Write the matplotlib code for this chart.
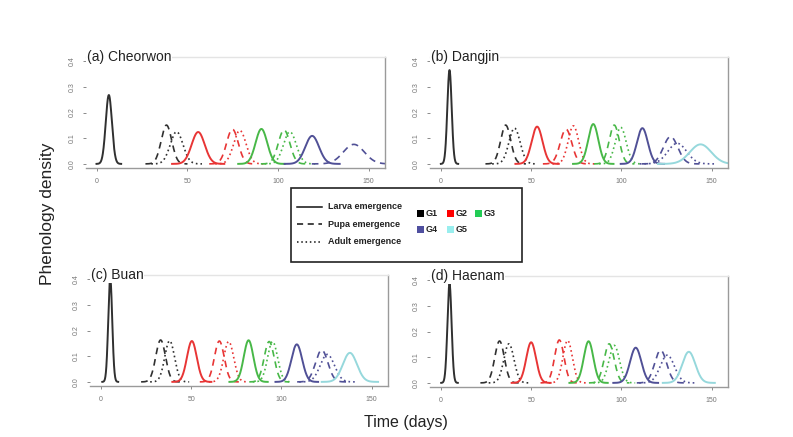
import numpy as np
import matplotlib
matplotlib.use("Agg")
import matplotlib.pyplot as plt
from matplotlib.lines import Line2D
from matplotlib.patches import Rectangle

plt.rcParams['font.family'] = ['Liberation Sans', 'DejaVu Sans']

W, H = 793, 437

# panel titles
sites = ["(a) Cheorwon", "(b) Dangjin", "(c) Buan", "(d) Haenam"]
generations = ["G1", "G2", "G3", "G4", "G5"]
stages = ["Larva emergence", "Pupa emergence", "Adult emergence"]

# each curve: generation, stage, peak day, peak density, spread (days)
cheorwon_gen = ["G1", "G1", "G1", "G2", "G2", "G2", "G3", "G3", "G3", "G4", "G4"]
cheorwon_stage = ["larva", "pupa", "adult", "larva", "pupa", "adult", "larva", "pupa", "adult", "larva", "pupa"]
cheorwon_peak = [6.6, 38.4, 44.0, 55.9, 74.8, 78.9, 90.8, 103.3, 106.5, 118.8, 141.8]
cheorwon_height = [0.268, 0.151, 0.125, 0.124, 0.135, 0.130, 0.136, 0.132, 0.125, 0.109, 0.076]
cheorwon_sd = [1.7, 2.9, 3.5, 3.6, 3.2, 3.4, 3.2, 3.2, 3.5, 3.8, 5.8]

dangjin_gen = ["G1", "G1", "G1", "G2", "G2", "G2", "G3", "G3", "G3", "G4", "G4", "G4", "G5"]
dangjin_stage = ["larva", "pupa", "adult", "larva", "pupa", "adult", "larva", "pupa", "adult", "larva", "pupa", "adult", "larva"]
dangjin_peak = [4.8, 35.9, 40.8, 53.3, 69.3, 73.4, 84.4, 96.0, 99.6, 111.6, 127.2, 130.9, 143.8]
dangjin_height = [0.365, 0.151, 0.139, 0.145, 0.135, 0.148, 0.155, 0.151, 0.142, 0.139, 0.106, 0.080, 0.076]
dangjin_sd = [1.2, 2.8, 3.1, 3.0, 3.2, 2.9, 2.8, 2.8, 3.0, 3.0, 4.0, 5.2, 5.9]

buan_gen = ["G1", "G1", "G1", "G2", "G2", "G2", "G3", "G3", "G3", "G4", "G4", "G4", "G5"]
buan_stage = ["larva", "pupa", "adult", "larva", "pupa", "adult", "larva", "pupa", "adult", "larva", "pupa", "adult", "larva"]
buan_peak = [5.2, 33.1, 38.1, 50.4, 65.6, 70.8, 81.8, 93.2, 95.1, 108.5, 122.3, 125.4, 137.9]
buan_height = [0.403, 0.163, 0.160, 0.159, 0.159, 0.157, 0.162, 0.157, 0.157, 0.146, 0.124, 0.107, 0.113]
buan_sd = [1.1, 2.7, 2.7, 2.7, 2.7, 2.75, 2.65, 2.75, 2.75, 2.95, 3.4, 3.9, 3.9]

haenam_gen = ["G1", "G1", "G1", "G2", "G2", "G2", "G3", "G3", "G3", "G4", "G4", "G4", "G5"]
haenam_stage = ["larva", "pupa", "adult", "larva", "pupa", "adult", "larva", "pupa", "adult", "larva", "pupa", "adult", "larva"]
haenam_peak = [4.8, 32.5, 37.7, 50.0, 65.6, 70.2, 81.8, 93.2, 96.0, 107.9, 121.7, 125.4, 137.3]
haenam_height = [0.386, 0.163, 0.152, 0.158, 0.167, 0.165, 0.162, 0.152, 0.146, 0.137, 0.127, 0.108, 0.121]
haenam_sd = [1.15, 2.65, 2.8, 2.7, 2.6, 2.6, 2.65, 2.8, 2.9, 3.1, 3.3, 3.9, 3.6]

panels = [
    (cheorwon_gen, cheorwon_stage, cheorwon_peak, cheorwon_height, cheorwon_sd),
    (dangjin_gen, dangjin_stage, dangjin_peak, dangjin_height, dangjin_sd),
    (buan_gen, buan_stage, buan_peak, buan_height, buan_sd),
    (haenam_gen, haenam_stage, haenam_peak, haenam_height, haenam_sd),
]

line_colors = {"G1": "#303030", "G2": "#E83535", "G3": "#48B848", "G4": "#505096", "G5": "#96D8DC"}
legend_colors = {"G1": "#000000", "G2": "#FF0000", "G3": "#22CC55", "G4": "#4F4F9F", "G5": "#99EEEE"}
styles = {"larva": "-", "pupa": (0, (4, 3)), "adult": (0, (1, 1.8))}

# axes boxes in pixels: left, top, right, bottom
boxes = [(86, 57, 385, 168), (430, 57, 728, 168), (90, 275, 388, 386), (430, 276, 728, 387)]


def fx(px):
    return px / W


def fy(py):
    return 1 - py / H


fig = plt.figure(figsize=(W / 100, H / 100), dpi=100)

for (l, t, r, b), title, (gens, stgs, peaks, heights, sds) in zip(boxes, sites, panels):
    ax = fig.add_axes([fx(l), fy(b), fx(r) - fx(l), fy(t) - fy(b)])
    for g, s, m, h, sd in zip(gens, stgs, peaks, heights, sds):
        x = np.linspace(m - 4 * sd, m + 4 * sd, 200)
        y = h * np.exp(-0.5 * ((x - m) / sd) ** 2)
        lw = 1.4 if s == "larva" else 1.2
        ax.plot(x, y, color=line_colors[g], linestyle=styles[s], lw=lw)
    ax.set_xlim(-6, 159)
    ax.set_ylim(-0.016, 0.416)
    ax.set_xticks([0, 50, 100, 150])
    ax.set_yticks([0.0, 0.1, 0.2, 0.3, 0.4])
    ax.set_yticklabels(["0.0", "0.1", "0.2", "0.3", "0.4"], rotation=90, va="center")
    ax.tick_params(labelsize=5, colors="#777777", length=2.5, width=0.6, pad=5)
    ax.spines["left"].set_visible(False)
    ax.spines["bottom"].set_color("#9A9A9A")
    ax.spines["right"].set_color("#9A9A9A")
    ax.spines["top"].set_color("#E4E4E4")
    for sp in ax.spines.values():
        sp.set_linewidth(1.0)
    ax.text(0.003, 1.0, title, transform=ax.transAxes, fontsize=10, ha="left", va="center",
            color="#222222", bbox=dict(facecolor="white", edgecolor="none", pad=0.5))

fig.text(fx(48), fy(214), "Phenology density", rotation=90, fontsize=12.5, ha="center", va="center",
         color="#222222")
fig.text(fx(406), fy(422), "Time (days)", fontsize=11.5, ha="center", va="center", color="#222222")

# legend box drawn by hand
fig.add_artist(Rectangle((fx(291), fy(262)), fx(522) - fx(291), fy(188) - fy(262),
                         transform=fig.transFigure, facecolor="white", edgecolor="#222222", lw=1.2))
for i, (stage, key) in enumerate(zip(stages, ["larva", "pupa", "adult"])):
    py = 207 + i * 17.5
    fig.add_artist(Line2D([fx(297), fx(322)], [fy(py), fy(py)], transform=fig.transFigure,
                          color="#111111", linestyle=styles[key], lw=1.1))
    fig.text(fx(328), fy(py), stage, fontsize=6.5, fontweight="bold", ha="left", va="center",
             color="#222222")

gen_pos = [(417, 213), (447, 213), (475, 213), (417, 229), (447, 229)]
for g, (px, py) in zip(generations, gen_pos):
    fig.add_artist(Rectangle((fx(px), fy(py + 3.5)), fx(7), fy(0) - fy(7), transform=fig.transFigure,
                             facecolor=legend_colors[g], edgecolor="none"))
    fig.text(fx(px + 9), fy(py), g, fontsize=6.5, fontweight="bold", ha="left", va="center", color="#222222")

fig.savefig("out.png", dpi=100)
